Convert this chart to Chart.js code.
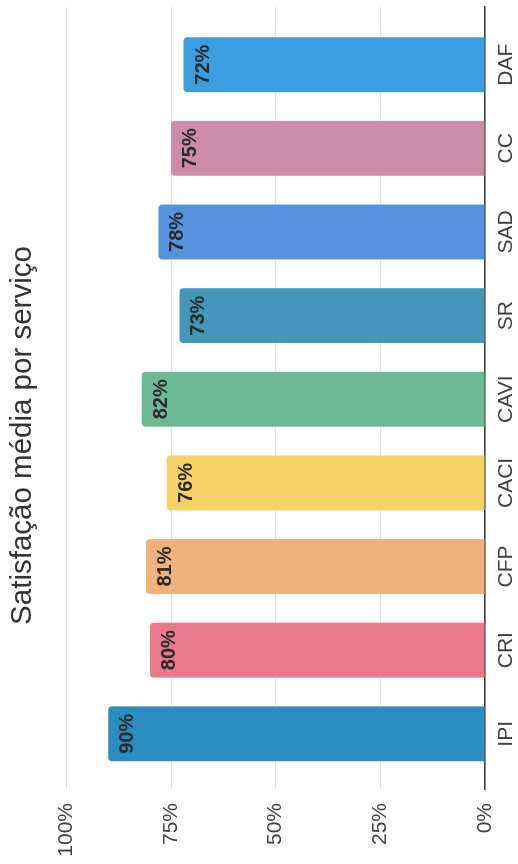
<!DOCTYPE html>
<html lang="pt">
<head>
<meta charset="utf-8">
<title>Satisfação média por serviço</title>
<script src="https://cdn.jsdelivr.net/npm/chart.js@4/dist/chart.umd.min.js"></script>
<style>
  html, body { margin: 0; padding: 0; background: #ffffff; overflow: hidden; width: 518px; height: 864px; }
  /* the chart is laid out landscape and turned a quarter turn to fit the portrait page */
  #wrap {
    position: absolute; left: 0; top: 0;
    width: 864px; height: 518px;
    transform-origin: 0 0;
    transform: translate(0, 864px) rotate(-90deg);
    background: #ffffff;
  }
</style>
</head>
<body>
<div id="wrap"><canvas id="chart" width="864" height="518"></canvas></div>
<script>
const categories = ['IPI', 'CRI', 'CFP', 'CACI', 'CAVI', 'SR', 'SAD', 'CC', 'DAF'];
const satisfaction = [90, 80, 81, 76, 82, 73, 78, 75, 72];
const barColors = ['#2b8ec3', '#e8788a', '#f0b17c', '#f6d165', '#6db993', '#4597ba', '#5592db', '#cc8ba6', '#3c9ee0'];
const valueTicks = [0, 25, 50, 75, 100];

const FONT = '"Liberation Sans", Arial, Helvetica, sans-serif';

// value printed near the top of each bar
const barValueLabels = {
  id: 'barValueLabels',
  afterDatasetsDraw(chart) {
    const ctx = chart.ctx;
    const meta = chart.getDatasetMeta(0);
    ctx.save();
    ctx.font = 'bold 20px ' + FONT;
    ctx.fillStyle = '#2a2a2a';
    ctx.textAlign = 'center';
    ctx.textBaseline = 'alphabetic';
    meta.data.forEach((bar, i) => {
      ctx.fillText(satisfaction[i] + '%', bar.x, bar.y + 25);
    });
    ctx.restore();
  }
};

new Chart(document.getElementById('chart'), {
  type: 'bar',
  data: {
    datasets: [{
      data: categories.map((c, i) => ({ x: i, y: satisfaction[i] })),
      backgroundColor: barColors,
      borderWidth: 0,
      borderRadius: 4,
      categoryPercentage: 0.8,
      barPercentage: 0.82
    }]
  },
  options: {
    responsive: false,
    animation: false,
    devicePixelRatio: 1,
    layout: { padding: { left: 0, right: 7, top: 0, bottom: 0 } },
    plugins: {
      legend: { display: false },
      tooltip: { enabled: false },
      title: {
        display: true,
        text: 'Satisfação média por serviço',
        color: '#333333',
        font: { family: FONT, size: 29.5, weight: 'normal' },
        padding: { top: 5, bottom: 26 }
      }
    },
    scales: {
      x: {
        type: 'linear',
        min: -0.66,
        max: 8.69,
        offset: false,
        grid: { display: false, offset: false, drawTicks: false },
        border: { display: true, color: '#3a3a3a', width: 1.5 },
        afterBuildTicks(scale) {
          scale.ticks = categories.map((c, i) => ({ value: i }));
        },
        afterFit(scale) { scale.height = 33; },
        ticks: {
          autoSkip: false,
          maxRotation: 0,
          padding: 9,
          color: '#404040',
          font: { family: FONT, size: 21 },
          callback: (v) => categories[v] ?? ''
        }
      },
      y: {
        min: 0,
        max: 100,
        afterBuildTicks(scale) {
          scale.ticks = valueTicks.map(v => ({ value: v }));
        },
        afterFit(scale) { scale.width = 75; },
        grid: { color: '#e2e2e2', lineWidth: 1, drawTicks: false },
        border: { display: false },
        ticks: {
          padding: 14,
          color: '#404040',
          font: { family: FONT, size: 21 },
          callback: (v) => v + '%'
        }
      }
    }
  },
  plugins: [barValueLabels]
});
</script>
</body>
</html>
